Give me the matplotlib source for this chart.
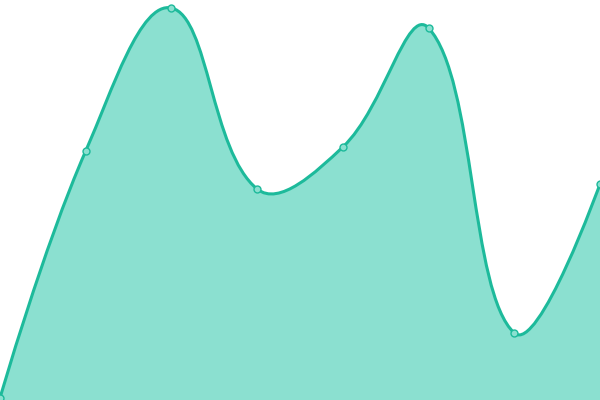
import numpy as np
import matplotlib
matplotlib.use('Agg')
import matplotlib.pyplot as plt
from matplotlib.path import Path
from matplotlib.patches import PathPatch

# values in chart units (0 at the bottom, 400 at the top)
xs = [0, 1, 2, 3, 4, 5, 6, 7]
values = [2, 249, 392, 211, 253, 372, 67, 216]

LINE = '#1dba9b'
FILL = '#8be0d0'
W, H = 600, 400
YMAX = 400
TENSION = 0.4

sx, sy = W / (len(xs) - 1), H / YMAX  # pixel per unit, for the smoothing distances
px = np.array(xs, float) * sx
py = np.array(values, float) * sy


def smooth_path(px, py, t):
    # cubic spline through the points, control points from neighbour distances
    n = len(px)
    verts = [(px[0], py[0])]
    codes = [Path.MOVETO]
    cps = []
    for i in range(n):
        if i == 0 or i == n - 1:
            cps.append(((px[i], py[i]), (px[i], py[i])))
            continue
        vx, vy = px[i + 1] - px[i - 1], py[i + 1] - py[i - 1]
        d0 = np.hypot(px[i] - px[i - 1], py[i] - py[i - 1])
        d1 = np.hypot(px[i + 1] - px[i], py[i + 1] - py[i])
        fa, fb = t * d0 / (d0 + d1), t * d1 / (d0 + d1)
        before = (px[i] - vx * fa, py[i] - vy * fa)
        after = (px[i] + vx * fb, py[i] + vy * fb)
        cps.append((before, after))
    for i in range(1, n):
        verts += [cps[i - 1][1], cps[i][0], (px[i], py[i])]
        codes += [Path.CURVE4] * 3
    return verts, codes


verts, codes = smooth_path(px, py, TENSION)
verts = [(x / sx, y / sy) for x, y in verts]

fig = plt.figure(figsize=(6, 4), dpi=100)
ax = fig.add_axes([0, 0, 1, 1])

area_v = verts + [(xs[-1], 0), (xs[0], 0), verts[0]]
area_c = codes + [Path.LINETO, Path.LINETO, Path.CLOSEPOLY]
ax.add_patch(PathPatch(Path(area_v, area_c), facecolor=FILL, edgecolor='none'))
ax.add_patch(PathPatch(Path(verts, codes), facecolor='none', edgecolor=LINE,
                       lw=2.2, capstyle='round', joinstyle='round'))
ax.plot(xs, values, 'o', ms=5, mfc=FILL, mec=LINE, mew=1, clip_on=False)

ax.set_xlim(xs[0], xs[-1])
ax.set_ylim(0, YMAX)
ax.axis('off')
fig.savefig('out.png', dpi=100)
